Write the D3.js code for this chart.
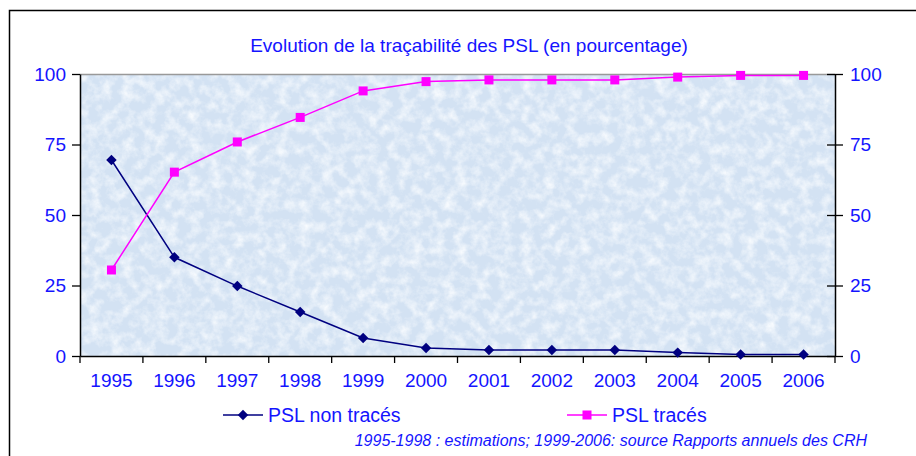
<!DOCTYPE html>
<html>
<head>
<meta charset="utf-8">
<script src="https://cdn.jsdelivr.net/npm/d3@7"></script>
<style>
  body { margin: 0; background: #fff; }
  svg { display: block; font-family: "Liberation Sans", Arial, sans-serif; }
</style>
</head>
<body>
<svg id="chart" width="916" height="456"></svg>
<script>
// Data
var years = ["1995", "1996", "1997", "1998", "1999", "2000", "2001", "2002", "2003", "2004", "2005", "2006"];
var nonTraces = [69.5, 35, 24.8, 15.6, 6.4, 2.8, 2.1, 2.1, 2.1, 1.2, 0.5, 0.5];
var traces = [30.5, 65.2, 75.9, 84.6, 94, 97.3, 97.9, 97.9, 97.9, 98.9, 99.5, 99.5];
var yTicks = [0, 25, 50, 75, 100];

var titleText = "Evolution de la traçabilité des PSL (en pourcentage)";
var footText = "1995-1998 : estimations; 1999-2006: source Rapports annuels des CRH";

var blue = "#1414ff";
var svg = d3.select("#chart");

// outer frame
svg.append("rect")
  .attr("x", 9.5).attr("y", 10.5)
  .attr("width", 920).attr("height", 460)
  .attr("fill", "none").attr("stroke", "#000").attr("stroke-width", 1.5);

var pLeft = 80, pRight = 835, pTop = 74, pBottom = 356;

var x = d3.scaleBand().domain(years).range([pLeft, pRight]);
var y = d3.scaleLinear().domain([0, 100]).range([pBottom, pTop]);

// textured background for the plot area (light blue, mottled)
var defs = svg.append("defs");
var filt = defs.append("filter").attr("id", "tex")
  .attr("x", 0).attr("y", 0).attr("width", "100%").attr("height", "100%");
filt.append("feTurbulence").attr("type", "fractalNoise")
  .attr("baseFrequency", 0.09).attr("numOctaves", 4).attr("seed", 7).attr("result", "n");
filt.append("feColorMatrix").attr("in", "n").attr("type", "matrix")
  .attr("values", "0 0 0 0 0.96  0 0 0 0 0.98  0 0 0 0 1  1.8 0 0 0 -0.7")
  .attr("result", "c");
filt.append("feComposite").attr("in", "c").attr("in2", "SourceGraphic").attr("operator", "in");

svg.append("rect")
  .attr("x", pLeft).attr("y", pTop)
  .attr("width", pRight - pLeft).attr("height", pBottom - pTop)
  .attr("fill", "#d3e2f3");
svg.append("rect")
  .attr("x", pLeft).attr("y", pTop)
  .attr("width", pRight - pLeft).attr("height", pBottom - pTop)
  .attr("fill", "#fff")
  .attr("filter", "url(#tex)");

// top edge of plot area
svg.append("line")
  .attr("x1", pLeft).attr("x2", pRight).attr("y1", pTop + 0.5).attr("y2", pTop + 0.5)
  .attr("stroke", "#999").attr("stroke-width", 1.5);

// title
svg.append("text")
  .attr("x", 469).attr("y", 52)
  .attr("text-anchor", "middle")
  .attr("font-size", 19)
  .attr("fill", blue)
  .text(titleText);

// axes
function styleAxis(g) {
  g.selectAll(".domain").attr("stroke", "#000").attr("stroke-width", 1.5);
  g.selectAll(".tick line").attr("stroke", "#000").attr("stroke-width", 1.3);
  g.selectAll("text").attr("fill", blue).attr("font-size", 19)
    .attr("font-family", "'Liberation Sans', Arial, sans-serif");
}

var yLeft = svg.append("g")
  .attr("transform", "translate(" + pLeft + ",0)")
  .call(d3.axisLeft(y).tickValues(yTicks).tickSize(8).tickSizeOuter(0).tickPadding(6));
styleAxis(yLeft);

var yRight = svg.append("g")
  .attr("transform", "translate(" + pRight + ",0)")
  .call(d3.axisRight(y).tickValues(yTicks).tickSize(8).tickSizeOuter(0).tickPadding(6));
styleAxis(yRight);
// ticks cross the axis on the right side
yRight.selectAll(".tick line").attr("x1", -8).attr("x2", 8);
yRight.selectAll(".tick text").attr("x", 15);

var xAxis = svg.append("g")
  .attr("transform", "translate(0," + pBottom + ")")
  .call(d3.axisBottom(x).tickSize(0).tickPadding(18));
styleAxis(xAxis);
// category boundary ticks
xAxis.selectAll(".bound")
  .data(years.concat(["end"]))
  .enter().append("line")
  .attr("class", "bound")
  .attr("x1", function(d, i) { return pLeft + i * x.step(); })
  .attr("x2", function(d, i) { return pLeft + i * x.step(); })
  .attr("y1", 0).attr("y2", 7)
  .attr("stroke", "#000").attr("stroke-width", 1.3);

var cx = function(d, i) { return x(years[i]) + x.bandwidth() / 2; };

// series lines
var line = d3.line()
  .x(function(d, i) { return cx(d, i); })
  .y(function(d) { return y(d); });

svg.append("path").datum(nonTraces)
  .attr("d", line).attr("fill", "none")
  .attr("stroke", "#000080").attr("stroke-width", 1.5);

svg.append("path").datum(traces)
  .attr("d", line).attr("fill", "none")
  .attr("stroke", "#ff00ff").attr("stroke-width", 1.5);

// markers
var diamond = d3.symbol().type(d3.symbolDiamond2).size(70);
svg.append("g").selectAll("path")
  .data(nonTraces).enter().append("path")
  .attr("d", diamond)
  .attr("transform", function(d, i) { return "translate(" + cx(d, i) + "," + y(d) + ")"; })
  .attr("fill", "#000080");

svg.append("g").selectAll("rect")
  .data(traces).enter().append("rect")
  .attr("x", function(d, i) { return cx(d, i) - 4.5; })
  .attr("y", function(d) { return y(d) - 4.5; })
  .attr("width", 9).attr("height", 9)
  .attr("fill", "#ff00ff");

// legend
var legendItems = [
  {name: "PSL non tracés", color: "#000080", shape: "diamond", x0: 223},
  {name: "PSL tracés", color: "#ff00ff", shape: "square", x0: 567}
];
var ly = 415;
legendItems.forEach(function(it) {
  var g = svg.append("g");
  g.append("line")
    .attr("x1", it.x0).attr("x2", it.x0 + 40)
    .attr("y1", ly).attr("y2", ly)
    .attr("stroke", it.color).attr("stroke-width", 1.5);
  if (it.shape === "diamond") {
    g.append("path").attr("d", diamond)
      .attr("transform", "translate(" + (it.x0 + 20) + "," + ly + ")")
      .attr("fill", it.color);
  } else {
    g.append("rect")
      .attr("x", it.x0 + 15.5).attr("y", ly - 4.5)
      .attr("width", 9).attr("height", 9)
      .attr("fill", it.color);
  }
  g.append("text")
    .attr("x", it.x0 + 45).attr("y", ly + 7)
    .attr("font-size", 19.5).attr("fill", blue)
    .text(it.name);
});

// footnote
svg.append("text")
  .attr("x", 867).attr("y", 446)
  .attr("text-anchor", "end")
  .attr("font-size", 16)
  .attr("font-style", "italic")
  .attr("fill", blue)
  .text(footText);
</script>
</body>
</html>
